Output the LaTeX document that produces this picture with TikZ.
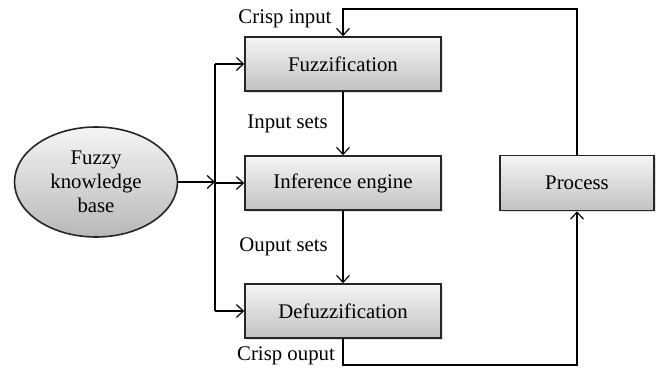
\documentclass[tikz,border=0pt]{standalone}
\usepackage{fontspec}
\setmainfont{Liberation Serif}
\usetikzlibrary{shapes.geometric,shadows,arrows.meta}
\begin{document}
\begin{tikzpicture}[x=0.5pt,y=-0.5pt,font=\fontsize{10.4}{12}\selectfont,
    >={Straight Barb[length=3.5pt,width=6.5pt]},
    line width=0.6pt,
    block/.style={draw=black!85,line width=0.8pt,minimum width=98pt,minimum height=27pt,
        top color=black!4,bottom color=black!24,
        drop shadow={shadow xshift=1pt,shadow yshift=-1pt,opacity=0.25}},
    base/.style={ellipse,draw=black!85,line width=0.8pt,minimum width=81.5pt,minimum height=55pt,
        inner sep=0pt,align=center,top color=black!4,bottom color=black!28}]
    \useasboundingbox (0,0) rectangle (662,373);
    \def\mx{343}
    %% blocks
    \node[block] (fuzz) at (\mx,64) {Fuzzification};
    \node[block] (infer) at (\mx,183) {Inference engine};
    \node[block] (defuzz) at (\mx,311) {Defuzzification};
    \node[block,minimum width=77pt,minimum height=27.5pt] (proc) at (577,183) {Process};
    \node[base] (kb) at (96,182) {Fuzzy\\knowledge\\base};
    %% knowledge base feeding all three blocks
    \coordinate (split) at (215,182);
    \draw[->] (kb.east) -- (split);
    \draw (split |- fuzz.west) -- (split |- defuzz.west);
    \foreach \n in {fuzz,infer,defuzz}
        \draw[->] (split |- \n.west) -- (\n.west);
    %% inner chain
    \draw[->] (fuzz) -- (infer) node[midway,left=4pt] (inlbl) {Input sets};
    \draw[->] (infer) -- (defuzz) node[midway,left=4pt] (outlbl) {Ouput sets};
    %% loop through the process
    \coordinate (ctop) at (577,9);
    \coordinate (cbot) at (\mx,365);
    \draw[->] (proc.north) -- (ctop) -| (fuzz.north);
    \draw[->] (defuzz.south) -- (cbot) -| (proc.south);
    \node (cin) at (285,19) {Crisp input};
    \node (cout) at (286,356) {Crisp ouput};
\end{tikzpicture}
\end{document}
